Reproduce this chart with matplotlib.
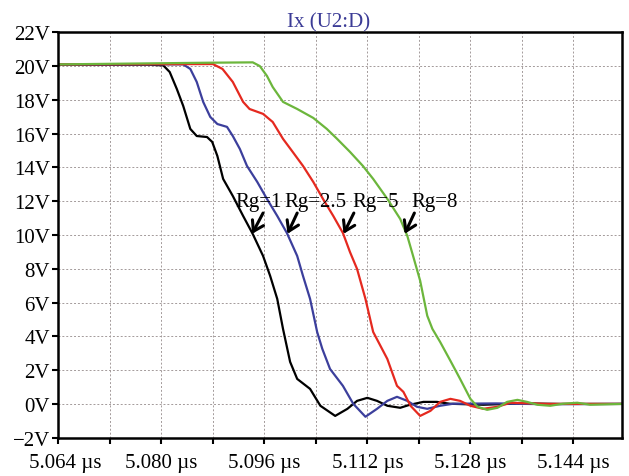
import matplotlib
matplotlib.use("Agg")
import matplotlib.pyplot as plt
from matplotlib.ticker import FixedLocator, MultipleLocator, FuncFormatter
from matplotlib.transforms import ScaledTranslation

# data (time in us, current shown as V)
t_rg1 = [5.064, 5.0782, 5.0803, 5.0813, 5.0824, 5.0834, 5.0845, 5.0855, 5.0871, 5.0879,
         5.0887, 5.0896, 5.0911, 5.0927, 5.0942, 5.0958, 5.0969, 5.0980, 5.0989, 5.1000,
         5.1011, 5.1031, 5.1047, 5.1070, 5.1089, 5.1104, 5.1120, 5.1135, 5.1151, 5.1171,
         5.1186, 5.1207, 5.1228, 5.1248, 5.1300, 5.1360, 5.1420, 5.1515]
v_rg1 = [20.08, 20.08, 20.04, 19.65, 18.65, 17.64, 16.28, 15.86, 15.8, 15.51,
         14.68, 13.32, 12.31, 11.13, 10.06, 8.76, 7.58, 6.22, 4.44, 2.49,
         1.48, 0.89, -0.11, -0.71, -0.29, 0.18, 0.36, 0.18, -0.11, -0.23,
         -0.05, 0.12, 0.12, 0.01, -0.05, 0.03, 0.0, 0.0]

t_rg25 = [5.064, 5.0834, 5.0845, 5.0855, 5.0865, 5.0876, 5.0887, 5.0902, 5.0911, 5.0922,
          5.0933, 5.0949, 5.0964, 5.0980, 5.0995, 5.1011, 5.1020, 5.1031, 5.1042, 5.1050,
          5.1062, 5.1082, 5.1098, 5.1117, 5.1135, 5.1151, 5.1166, 5.1182, 5.1197, 5.1213,
          5.1233, 5.1253, 5.1320, 5.1400, 5.1515]
v_rg25 = [20.1, 20.1, 19.83, 19.06, 17.88, 16.99, 16.57, 16.4, 15.86, 15.09,
          14.09, 13.14, 12.14, 11.13, 10.12, 8.76, 7.58, 6.22, 4.26, 3.26,
          2.07, 1.07, 0.01, -0.76, -0.29, 0.18, 0.42, 0.18, -0.17, -0.29,
          -0.11, 0.01, 0.03, -0.02, 0.0]

t_rg5 = [5.064, 5.0880, 5.0895, 5.0911, 5.0927, 5.0937, 5.0958, 5.0973, 5.0989, 5.1004,
         5.1020, 5.1036, 5.1051, 5.1067, 5.1082, 5.1093, 5.1104, 5.1117, 5.1129, 5.1151,
         5.1166, 5.1176, 5.1187, 5.1202, 5.1218, 5.1233, 5.1249, 5.1264, 5.1280, 5.1300,
         5.1322, 5.1342, 5.1400, 5.1515]
v_rg5 = [20.1, 20.12, 19.83, 19.06, 17.88, 17.46, 17.17, 16.69, 15.69, 14.92,
         14.09, 13.14, 12.14, 11.13, 10.12, 8.99, 7.99, 6.22, 4.26, 2.66,
         1.07, 0.71, -0.11, -0.71, -0.41, 0.12, 0.30, 0.18, -0.11, -0.29,
         -0.17, 0.07, 0.0, 0.0]

t_rg8 = [5.064, 5.0876, 5.0942, 5.0953, 5.0964, 5.0973, 5.0989, 5.1011, 5.1036, 5.1057,
         5.1073, 5.1093, 5.1113, 5.1129, 5.1151, 5.1171, 5.1182, 5.1191, 5.1202, 5.1213,
         5.1221, 5.1233, 5.1249, 5.1264, 5.1280, 5.1291, 5.1306, 5.1322, 5.1337, 5.1353,
         5.1368, 5.1384, 5.1404, 5.1424, 5.1446, 5.1466, 5.1515]
v_rg8 = [20.1, 20.2, 20.22, 20.0, 19.42, 18.76, 17.88, 17.46, 16.93, 16.28,
         15.69, 14.92, 14.09, 13.32, 12.14, 10.95, 9.95, 8.76, 7.29, 5.22,
         4.44, 3.67, 2.55, 1.48, 0.30, -0.17, -0.35, -0.23, 0.12, 0.24,
         0.12, -0.05, -0.11, 0.01, 0.07, -0.05, 0.0]

labels = ["Rg=1", "Rg=2.5", "Rg=5", "Rg=8"]
label_x = [5.0951, 5.1039, 5.1133, 5.1225]
arrow_tip_x = [5.0941, 5.0996, 5.1083, 5.1178]
arrow_tail_x = [5.0958, 5.1011, 5.1099, 5.1193]

x_major = [5.064, 5.080, 5.096, 5.112, 5.128, 5.144]
x_minor = [5.072, 5.088, 5.104, 5.120, 5.136]

plt.rcParams['font.family'] = ['Liberation Serif', 'DejaVu Serif']

fig = plt.figure(figsize=(6.29, 4.77), dpi=100)
ax = fig.add_axes([0.0927, 0.0803, 0.8957, 0.8499])

ax.plot(t_rg1, v_rg1, color='black', lw=1.6)
ax.plot(t_rg25, v_rg25, color='#3c3f9c', lw=1.6)
ax.plot(t_rg5, v_rg5, color='#e5291f', lw=1.6)
ax.plot(t_rg8, v_rg8, color='#6cb63c', lw=1.6)

for lab, lx, hx, tx in zip(labels, label_x, arrow_tip_x, arrow_tail_x):
    ax.text(lx, 11.7, lab, ha='center', va='baseline', fontsize=15)
    ax.annotate('', xy=(hx, 10.07), xytext=(tx, 11.3),
                arrowprops=dict(arrowstyle='->,head_length=0.7,head_width=0.45',
                                color='black', lw=2.2, shrinkA=0, shrinkB=0))

ax.set_xlim(5.064, 5.1515)
ax.set_ylim(-2, 22)
ax.xaxis.set_major_locator(FixedLocator(x_major))
ax.xaxis.set_minor_locator(FixedLocator(x_minor))
ax.yaxis.set_major_locator(MultipleLocator(2))
ax.xaxis.set_major_formatter(FuncFormatter(lambda v, p: f"{v:.3f} \u00b5s"))
ax.yaxis.set_major_formatter(FuncFormatter(lambda v, p: f"{v:.0f}V".replace('-', '\u2212')))
ax.tick_params(which='both', direction='out', length=4, width=1.5, labelsize=15)
ax.tick_params(axis='x', pad=7)
ax.tick_params(axis='y', pad=2)

# first x label sits a bit to the right in the reference
lab0 = ax.xaxis.get_major_ticks()[0].label1
lab0.set_transform(lab0.get_transform() + ScaledTranslation(0.07, 0, fig.dpi_scale_trans))

ax.grid(True, which='both', color='#a39a9a', linestyle=(0, (2, 2)), lw=0.7)
ax.set_axisbelow(True)
for s in ax.spines.values():
    s.set_linewidth(1.8)

ax.set_title('Ix (U2:D)', color='#3b3b96', fontsize=15, pad=4, x=0.48)

fig.savefig('out.png', dpi=100)
